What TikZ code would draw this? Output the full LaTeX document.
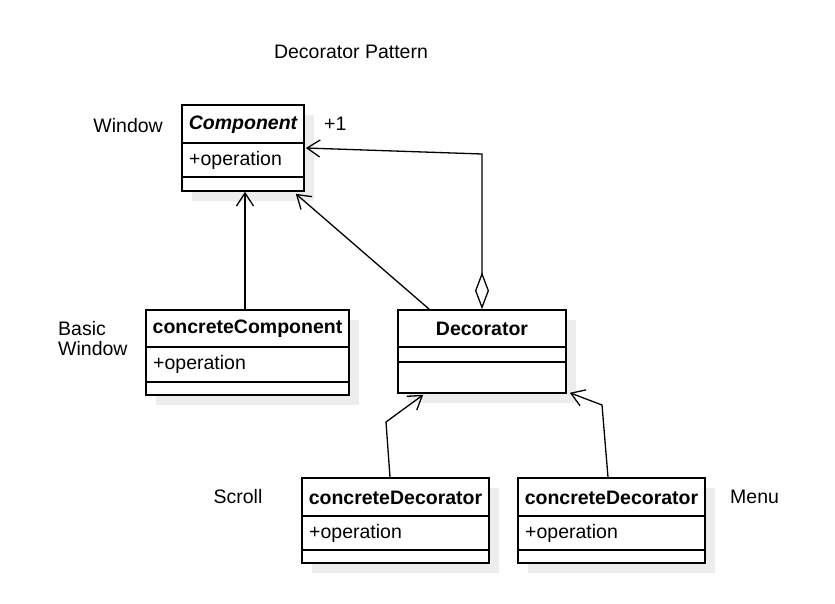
\documentclass[tikz,border=0pt]{standalone}
\usepackage{fontspec}
\setmainfont{Liberation Sans}
\usetikzlibrary{arrows.meta,shadows,calc}
\begin{document}
\begin{tikzpicture}[x=1pt,y=-1pt,
  font=\fontsize{19.5}{23}\selectfont,
  classbox/.style={draw, line width=1.6pt, fill=white, inner sep=0pt,
    drop shadow={shadow xshift=10pt, shadow yshift=-10pt, fill=black!7, opacity=1}},
  sepline/.style={line width=1.4pt},
  title/.style={font=\fontsize{19.5}{23}\selectfont\bfseries, inner sep=0pt},
  member/.style={anchor=west, inner sep=0pt},
  lbl/.style={inner sep=0pt},
  conn/.style={line width=1.3pt},
  inh/.style={conn, -{Straight Barb[length=13pt,width=17pt,line width=1.3pt]}},
  agg/.style={conn, {Diamond[open,length=37pt,width=14pt,line width=1.3pt]}-{Straight Barb[length=13pt,width=17pt,line width=1.3pt]}}
]
\useasboundingbox (0,0) rectangle (835,604);

% Component
\node[classbox, minimum width=122pt, minimum height=86pt] (comp) at (243,148) {};
\draw[sepline] (182,143) -- (304,143) (182,177) -- (304,177);
\node[title, font=\fontsize{19.5}{23}\selectfont\bfseries\itshape] (compT) at (243,125) {Component};
\node[member] (compO) at (189,160) {+operation};

% concreteComponent
\node[classbox, minimum width=203pt, minimum height=85pt] (cc) at (247.5,352.5) {};
\draw[sepline] (146,347) -- (349,347) (146,382) -- (349,382);
\node[title] (ccT) at (247.5,329) {concreteComponent};
\node[member] (ccO) at (153,364.5) {+operation};

% Decorator
\node[classbox, minimum width=168pt, minimum height=83pt] (dec) at (482,351.5) {};
\draw[sepline] (398,347) -- (566,347) (398,362) -- (566,362);
\node[title] (decT) at (482,329) {Decorator};

% concreteDecorator (left)
\node[classbox, minimum width=187pt, minimum height=85pt] (cdA) at (395.5,520.5) {};
\draw[sepline] (302,516) -- (489,516) (302,550) -- (489,550);
\node[title] (cdAT) at (395.5,497.5) {concreteDecorator};
\node[member] (cdAO) at (309,533) {+operation};

% concreteDecorator (right)
\node[classbox, minimum width=187pt, minimum height=85pt] (cdB) at (611.5,520.5) {};
\draw[sepline] (518,516) -- (705,516) (518,550) -- (705,550);
\node[title] (cdBT) at (611.5,497.5) {concreteDecorator};
\node[member] (cdBO) at (525,533) {+operation};

% connectors
\coordinate (ccTop) at ($(cc.north)+(-2.5,0)$);
\draw[inh] (ccTop) -- (ccTop |- comp.south);
\draw[inh] ($(dec.north west)+(32,0)$) -- ($(comp.south east)+(-9,2)$);
\coordinate (aggBend) at (482,154);
\draw[agg] (dec.north) -- (aggBend) -- ($(comp.east)+(1,0)$);
\coordinate (cdABend) at (386,422);
\draw[inh] ($(cdA.north)+(-5.5,0)$) -- (cdABend) -- ($(dec.south west)+(26,1)$);
\coordinate (cdBBend) at (602,405);
\draw[inh] ($(cdB.north)+(-3.5,0)$) -- (cdBBend) -- ($(dec.south east)+(3,-1)$);

% labels
\node[lbl] (heading) at (351,52) {Decorator Pattern};
\node[lbl, anchor=east] (winL) at (163,126) {Window};
\node[lbl, anchor=west] (mult) at (324,124) {+1};
\node[lbl, anchor=west, align=left, font=\fontsize{19.5}{20}\selectfont] (basicL) at (58,339) {Basic\\Window};
\node[lbl] (scrollL) at (238,497) {Scroll};
\node[lbl, anchor=west] (menuL) at (730,497) {Menu};
\end{tikzpicture}
\end{document}
